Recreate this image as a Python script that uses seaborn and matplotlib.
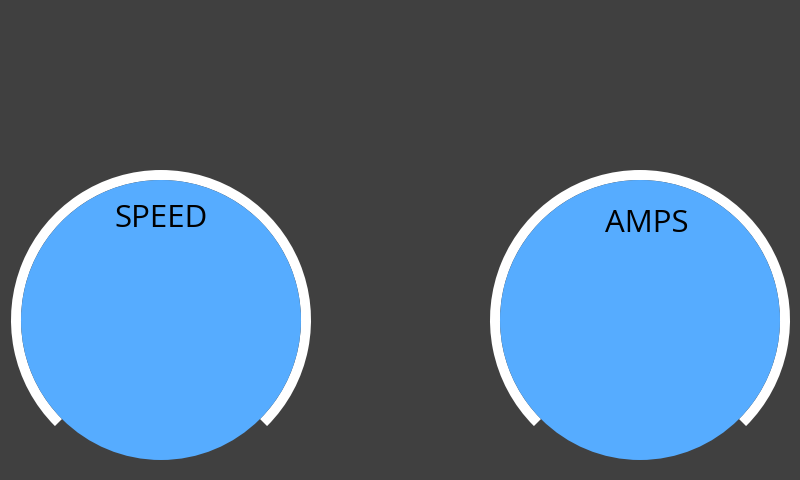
import matplotlib
matplotlib.use("Agg")
import matplotlib.pyplot as plt
from matplotlib.patches import Circle, Wedge
import seaborn as sns

# Gauge data
gauge_labels = ["SPEED", "AMPS"]
gauge_start_deg = [-45, -45]
gauge_end_deg = [225, 225]

# Style
bg_color = "#404040"
face_color = "#56ACFF"
ring_color = "#FFFFFF"

sns.set_theme(style="dark", rc={"figure.facecolor": bg_color, "axes.facecolor": bg_color})
plt.rcParams["font.family"] = ["Open Sans", "DejaVu Sans"]

fig = plt.figure(figsize=(8, 4.8), dpi=100)
ax = fig.add_axes([0, 0, 1, 1])
ax.set_xlim(0, 800)
ax.set_ylim(0, 480)
ax.set_aspect("equal")
ax.axis("off")

# layout (pixel coords, y up)
centers = [(161, 160), (640, 160)]
label_pos = [(161, 261), (647, 256)]
face_r = 140
ring_r = 150
ring_w = 10

for label, t1, t2, (cx, cy), (lx, ly) in zip(gauge_labels, gauge_start_deg, gauge_end_deg, centers, label_pos):
    ax.add_patch(Wedge((cx, cy), ring_r, t1, t2, width=ring_w, facecolor=ring_color, edgecolor="none"))
    ax.add_patch(Circle((cx, cy), face_r, facecolor=face_color, edgecolor="none"))
    ax.text(lx, ly, label, ha="center", va="center", fontsize=22.5, color="black")

plt.savefig("out.png", dpi=100, facecolor=bg_color)
